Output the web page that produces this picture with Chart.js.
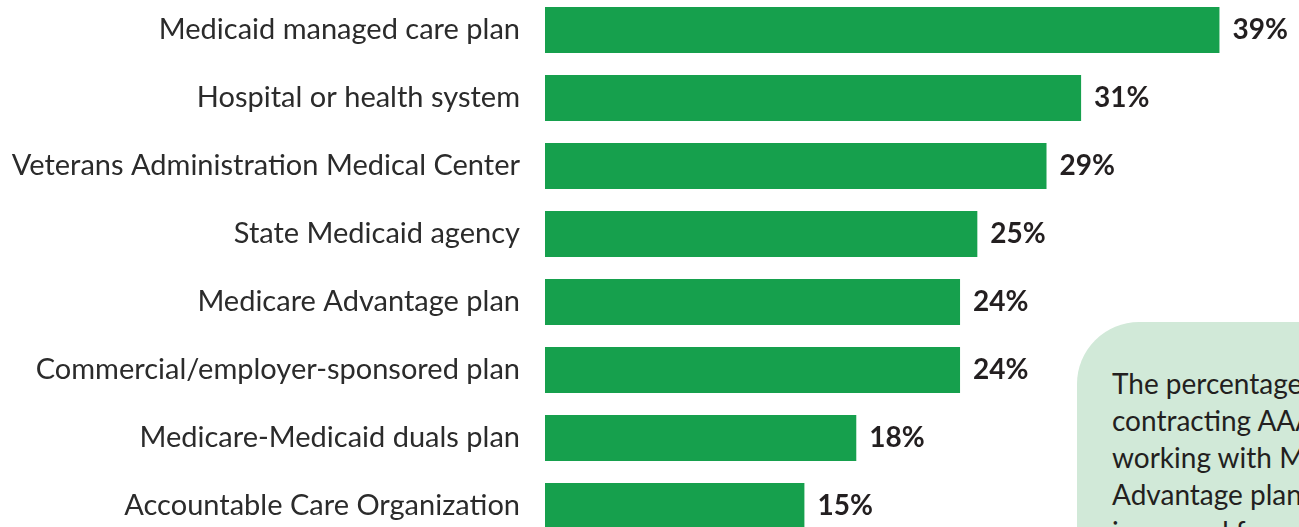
<!DOCTYPE html>
<html>
<head>
<meta charset="utf-8">
<script src="https://cdn.jsdelivr.net/npm/chart.js@4.4.1/dist/chart.umd.min.js"></script>
<style>
    html, body { margin: 0; padding: 0; background: #fff; overflow: hidden; }
    #wrap { position: relative; width: 1299px; height: 527px; overflow: hidden; }
    #chartBox { position: absolute; left: 0; top: -4px; width: 1299px; height: 544px; }
    .callout {
        position: absolute; left: 1077px; top: 322px; width: 400px; height: 300px;
        background: #d1e9d8; border-top-left-radius: 62px;
        font-family: Lato, "Open Sans", sans-serif; font-size: 28px; line-height: 37px;
        color: #231f20; padding: 43px 0 0 35px; box-sizing: border-box; white-space: nowrap;
    }
</style>
</head>
<body>
<div id="wrap">
    <div id="chartBox"><canvas id="barChart"></canvas></div>
    <div class="callout">The percentage of<br>contracting AAAs<br>working with Medicare<br>Advantage plans<br>increased from</div>
</div>
<script>
const CATEGORIES = [
    'Medicaid managed care plan',
    'Hospital or health system',
    'Veterans Administration Medical Center',
    'State Medicaid agency',
    'Medicare Advantage plan',
    'Commercial/employer-sponsored plan',
    'Medicare-Medicaid duals plan',
    'Accountable Care Organization'
]

const PERCENTS = [39, 31, 29, 25, 24, 24, 18, 15]

const valueLabels = {
    id: 'valueLabels',
    afterDatasetsDraw(chart) {
        const ctx = chart.ctx
        const meta = chart.getDatasetMeta(0)
        ctx.save()
        ctx.font = 'bold 28px Lato, "Open Sans", sans-serif'
        ctx.fillStyle = '#231f20'
        ctx.textBaseline = 'middle'
        meta.data.forEach((bar, i) => {
            ctx.fillText(PERCENTS[i] + '%', bar.x + 13, bar.y)
        })
        ctx.restore()
    }
}

const barChart = new Chart(document.getElementById('barChart'), {
    type: 'bar',
    data: {
        labels: CATEGORIES,
        datasets: [{
            data: PERCENTS,
            backgroundColor: '#16a04d',
            borderWidth: 0,
            barPercentage: 0.676,
            categoryPercentage: 1
        }]
    },
    options: {
        indexAxis: 'y',
        responsive: true,
        maintainAspectRatio: false,
        animation: false,
        layout: { padding: 0 },
        plugins: {
            legend: { display: false },
            tooltip: { enabled: false }
        },
        scales: {
            x: {
                display: false,
                min: 0,
                max: 43.6
            },
            y: {
                grid: { display: false, drawTicks: false },
                border: { display: false },
                afterFit: (axis) => {
                    // keep the bars flush with the canvas top and bottom
                    axis.width = 545
                    axis.paddingTop = 0
                    axis.paddingBottom = 0
                },
                ticks: {
                    padding: 25,
                    color: '#2b2b2b',
                    font: { family: 'Lato, "Open Sans", sans-serif', size: 29 }
                }
            }
        }
    },
    plugins: [valueLabels]
});
</script>
</body>
</html>
